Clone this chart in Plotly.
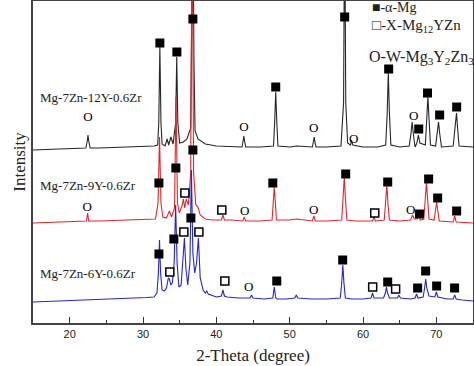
import plotly.graph_objects as go

# ---------------- data (2-theta in degrees, intensity in arbitrary units) ----------------
black_tth = [15.0, 17.0, 19.0, 21.0, 22.2, 22.4, 22.5, 22.6, 22.8, 24.0, 26.0, 28.0, 30.0, 31.5, 32.0, 32.15,
             32.3, 32.45, 32.6, 33.0, 33.3, 33.5, 33.8, 34.1, 34.45, 34.6, 34.75, 35.0, 35.5, 36.0, 36.5,
             36.65, 36.8, 36.95, 37.1, 37.5, 38.5, 40.0, 42.0, 43.5, 43.65, 43.75, 43.85, 44.0, 46.0, 47.8,
             47.95, 48.1, 48.25, 48.4, 50.0, 51.0, 53.1, 53.25, 53.35, 53.45, 53.6, 55.0, 57.0, 57.35, 57.5,
             57.65, 57.9, 58.3, 58.45, 58.6, 60.0, 62.0, 63.1, 63.3, 63.45, 63.6, 63.8, 65.0, 66.3, 66.55,
             66.7, 66.85, 67.1, 67.35, 67.55, 67.75, 68.5, 68.7, 68.85, 69.0, 69.2, 69.9, 70.1, 70.3, 70.45,
             70.7, 72.3, 72.55, 72.75, 72.9, 73.1, 75.0]
black_int = [173, 173.5, 174, 174.5, 175, 182, 188, 182, 175, 175, 175.5, 176, 176, 177, 178, 200,
             276, 200, 179, 177, 184, 178, 186, 179, 200, 266, 200, 180, 181, 184, 195,
             260, 420, 260, 192, 184, 179, 177, 176, 176, 182, 187, 182, 176, 176, 177,
             200, 231, 200, 177, 176, 177, 176, 182, 186, 181, 176, 176, 177, 220, 420,
             220, 180, 178, 183, 178, 176, 176, 178, 210, 250, 210, 178, 176, 177, 190,
             201, 190, 176, 180, 188, 180, 178, 205, 226, 205, 178, 177, 190, 201, 190,
             176, 177, 195, 210, 195, 177, 176]

red_tth = [15.0, 17.0, 19.0, 21.0, 22.3, 22.45, 22.6, 24.0, 27.0, 30.0, 31.7, 32.05, 32.25, 32.45, 32.7,
           33.2, 33.6, 33.9, 34.3, 34.5, 34.7, 34.95, 35.35, 35.5, 35.7, 35.9, 36.2, 36.5, 36.7, 36.9,
           37.2, 37.5, 37.8, 38.5, 39.5, 40.7, 40.9, 41.1, 42.0, 43.6, 43.8, 44.0, 46.0, 47.6, 47.75,
           47.9, 48.05, 48.2, 50.0, 51.0, 53.1, 53.3, 53.5, 55.0, 57.1, 57.3, 57.45, 57.6, 57.8, 59.0,
           61.3, 61.5, 61.7, 62.9, 63.1, 63.25, 63.4, 63.6, 65.0, 66.5, 66.75, 67.0, 67.4, 67.6, 67.8,
           68.3, 68.5, 68.65, 68.8, 69.0, 69.7, 69.9, 70.05, 70.2, 70.4, 72.3, 72.5, 72.7, 75.0]
red_int = [100, 100.5, 101, 101, 102, 110, 102, 102, 102.5, 103, 104, 120, 186, 120, 106,
           105, 112, 106, 115, 226, 120, 110, 118, 124, 115, 124, 118, 150, 420, 150,
           118, 116, 108, 104, 103, 103, 108, 103, 103, 102, 106, 102, 102, 103, 120,
           136, 120, 103, 103, 104, 102, 107, 102, 102, 103, 125, 146, 125, 103, 102,
           102, 106, 102, 103, 120, 138, 120, 103, 102, 103, 108, 104, 104, 110, 103,
           104, 125, 141, 125, 104, 103, 112, 121, 112, 102, 101, 107, 101, 100]

blue_tth = [15.0, 17.0, 19.0, 21.0, 23.0, 25.0, 27.0, 29.0, 30.5, 31.5, 31.9, 32.1, 32.25, 32.4, 32.6,
            32.9, 33.2, 33.45, 33.6, 33.8, 34.0, 34.25, 34.45, 34.65, 34.9, 35.2, 35.45, 35.65, 35.85,
            36.1, 36.4, 36.6, 36.8, 37.05, 37.3, 37.55, 37.8, 38.2, 38.5, 38.7, 38.9, 39.5, 40.0, 40.7,
            40.9, 41.1, 41.5, 43.0, 44.6, 44.8, 45.0, 46.5, 47.7, 47.9, 48.1, 48.3, 49.5, 50.7, 50.9,
            51.1, 53.0, 55.0, 56.9, 57.1, 57.25, 57.4, 57.6, 58.5, 60.0, 61.1, 61.3, 61.5, 62.8, 63.05,
            63.2, 63.35, 63.6, 64.7, 64.9, 65.1, 66.5, 67.1, 67.3, 67.5, 68.2, 68.4, 68.55, 68.7, 69.0,
            69.8, 70.0, 70.2, 71.5, 72.3, 72.5, 72.7, 73.5, 75.0]
blue_int = [21, 21.5, 22, 22.5, 23, 23.5, 24, 25, 25.5, 26, 30, 50, 83, 50, 33,
            32, 35, 45, 44, 38, 40, 60, 118, 60, 36, 38, 60, 85, 55,
            38, 60, 153, 70, 50, 60, 85, 45, 33, 30, 32, 29, 27, 26, 27,
            33, 27, 26, 25, 25, 28, 25, 24, 25, 36, 25, 24, 24, 25, 28,
            25, 24, 24, 25, 40, 58, 40, 25, 24, 24, 25, 30, 25, 25, 30,
            36, 30, 25, 25, 28, 25, 24, 25, 29, 25, 26, 35, 44, 35, 27,
            26, 31, 26, 24, 24, 28, 24, 23, 22]

# phase markers (2-theta, intensity) for each pattern
black_mg_x = [32.3, 34.62, 36.8, 48.1, 57.5, 63.5, 67.6, 68.8, 70.45, 72.77]
black_mg_y = [280, 271, 304, 236, 306, 254, 194, 230, 208, 216]
black_w_x = [22.5, 43.75, 53.28, 58.73, 66.9]
black_w_y = [205, 195, 194, 183, 206]

red_mg_x = [32.17, 34.48, 36.8, 47.7, 57.64, 63.37, 67.7, 68.95, 70.18, 72.77]
red_mg_y = [140, 155, 173, 140, 149, 141, 109, 144, 125, 112]
red_x_x = [35.71, 40.75, 61.6]
red_x_y = [130, 113, 110]
red_w_x = [22.4, 43.88, 53.28, 66.5]
red_w_y = [115, 111, 112, 112]

blue_mg_x = [32.17, 34.21, 36.53, 48.24, 57.23, 63.37, 67.45, 68.54, 70.04, 72.49]
blue_mg_y = [69, 84, 105, 42, 63, 41, 35, 52, 37, 35]
blue_x_x = [33.66, 35.57, 37.62, 41.16, 61.32, 64.45]
blue_x_y = [51, 91, 91, 42, 36, 34]
blue_w_x = [44.43]
blue_w_y = [35]

sample_labels = ["Mg-7Zn-12Y-0.6Zr", "Mg-7Zn-9Y-0.6Zr", "Mg-7Zn-6Y-0.6Zr"]
label_y = [226, 138, 50]
legend_texts = ["■-α-Mg", "□-X-Mg<sub>12</sub>YZn", "O-W-Mg<sub>3</sub>Y<sub>2</sub>Zn<sub>3</sub>"]
legend_y = [316, 297, 266]
x_ticks = [20, 30, 40, 50, 60, 70]

SERIF = "Liberation Serif, Times New Roman, serif"
SANS = "Liberation Sans, Arial, sans-serif"

fig = go.Figure()
for xs, ys, col in [(black_tth, black_int, "#262626"), (red_tth, red_int, "#e3262c"), (blue_tth, blue_int, "#2626d0")]:
    fig.add_trace(go.Scatter(x=xs, y=ys, mode="lines", line=dict(color=col, width=1.1), hoverinfo="skip"))

mg_x = black_mg_x + red_mg_x + blue_mg_x
mg_y = black_mg_y + red_mg_y + blue_mg_y
fig.add_trace(go.Scatter(x=mg_x, y=mg_y, mode="markers",
                         marker=dict(symbol="square", size=9, color="black", line=dict(width=0)),
                         cliponaxis=False))
x_x = red_x_x + blue_x_x
x_y = red_x_y + blue_x_y
fig.add_trace(go.Scatter(x=x_x, y=x_y, mode="markers",
                         marker=dict(symbol="square", size=8, color="white", line=dict(width=1.5, color="black")),
                         cliponaxis=False))
w_x = black_w_x + red_w_x + blue_w_x
w_y = black_w_y + red_w_y + blue_w_y
fig.add_trace(go.Scatter(x=w_x, y=w_y, mode="text", text=["O"] * len(w_x),
                         textfont=dict(family=SERIF, size=13, color="black"), cliponaxis=False))

for t, yv in zip(sample_labels, label_y):
    fig.add_annotation(x=15.7, y=yv, text=t, showarrow=False, xanchor="left", yanchor="middle",
                       font=dict(family=SERIF, size=13, color="#222"))
for t, yv, xv, fs in zip(legend_texts, legend_y, [61.0, 61.0, 60.6], [14, 15, 16]):
    fig.add_annotation(x=xv, y=yv, text=t, showarrow=False, xanchor="left", yanchor="middle",
                       font=dict(family=SERIF, size=fs, color="#222"))

fig.update_layout(
    width=474, height=366, margin=dict(l=33, r=1, t=1, b=43),
    paper_bgcolor="white", plot_bgcolor="white", showlegend=False,
    xaxis=dict(range=[15, 75], tickvals=x_ticks, ticks="inside", ticklen=6, tickwidth=1.2, tickcolor="#333",
               minor=dict(dtick=5, ticks="inside", ticklen=3, tickcolor="#333", tick0=15),
               showline=True, linecolor="#444", linewidth=1.5, mirror=True, showgrid=False, zeroline=False,
               automargin=False,
               tickfont=dict(family=SANS, size=11, color="#222"),
               title=dict(text="2-Theta (degree)", font=dict(family=SERIF, size=17, color="#222"), standoff=10)),
    yaxis=dict(range=[0, 322], showticklabels=False, ticks="", showline=True, linecolor="#444", linewidth=1.5,
               mirror=True, showgrid=False, zeroline=False, automargin=False,
               title=dict(text="Intensity", font=dict(family=SERIF, size=17, color="#222"), standoff=1)),
)
fig.write_html("out.html", config={"displayModeBar": False},
               post_script="document.body.style.margin='0';document.body.style.overflow='hidden';")
